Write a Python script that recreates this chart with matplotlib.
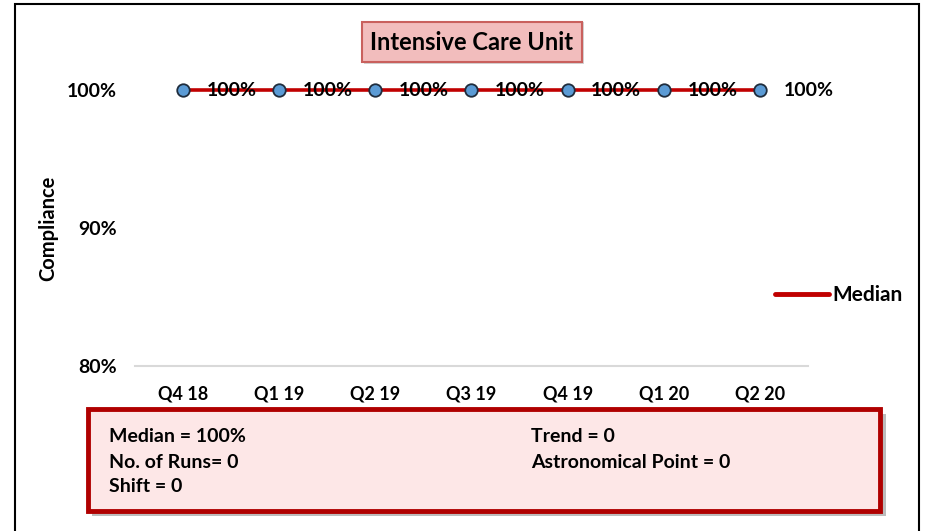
import numpy as np
import matplotlib.pyplot as plt
from matplotlib.patches import Rectangle
from matplotlib.lines import Line2D

# chart data
quarters = ["Q4 18", "Q1 19", "Q2 19", "Q3 19", "Q4 19", "Q1 20", "Q2 20"]
compliance = [100, 100, 100, 100, 100, 100, 100]
median = [100, 100, 100, 100, 100, 100, 100]
yticks = [80, 90, 100]

stats_left = ["Median = 100%", "No. of Runs= 0", "Shift = 0"]
stats_right = ["Trend = 0", "Astronomical Point = 0"]

plt.rcParams['font.family'] = ['Lato', 'DejaVu Sans']
plt.rcParams['font.weight'] = 'bold'

W, H = 928, 531
fig = plt.figure(figsize=(W / 100, H / 100), dpi=100)


def fx(px):
    return px / W


def fy(py):
    return 1 - py / H


ax = fig.add_axes([fx(135), fy(366), fx(808) - fx(135), fy(90) - fy(366)])
x = np.arange(len(quarters))

ax.plot(x, median, color="#C00000", lw=2.6, label="Median", zorder=2,
        solid_capstyle="butt", clip_on=False)
ax.plot(x, compliance, ls="none", marker="o", ms=9, mfc="#5B9BD5",
        mec="#1F2D3D", mew=1.3, zorder=3, clip_on=False)
for xi, v in zip(x, compliance):
    ax.annotate(f"{v:.0f}%", (xi, v), xytext=(17, 0), textcoords="offset points",
                ha="left", va="center", fontsize=14, fontweight="bold",
                color="black", zorder=4, annotation_clip=False)

ax.set_xlim(-0.5, len(quarters) - 0.5)
ax.set_ylim(80, 100)
ax.set_yticks(yticks)
ax.set_yticklabels([f"{t}%" for t in yticks])
ax.set_xticks(x)
ax.set_xticklabels(quarters)
ax.tick_params(axis="y", length=0, pad=13, labelsize=14)
ax.tick_params(axis="x", length=0, pad=14, labelsize=13)
for side in ["top", "right", "left"]:
    ax.spines[side].set_visible(False)
ax.spines["bottom"].set_color("#D9D9D9")
ax.spines["bottom"].set_linewidth(1.5)
ax.set_ylabel("Compliance", fontsize=14.5, fontweight="bold", labelpad=6)

fig.legend(handles=[Line2D([], [], color="#C00000", lw=3.5, solid_capstyle="round")],
           labels=["Median"], loc="center left",
           bbox_to_anchor=(fx(756), fy(295)), frameon=False,
           handlelength=2.6, handletextpad=0.15, fontsize=15)

# outer frame
fig.add_artist(Rectangle((fx(15), fy(540)), fx(919) - fx(15), fy(4) - fy(540),
                         transform=fig.transFigure, fill=False,
                         edgecolor="black", lw=1.5))

# title box
fig.add_artist(Rectangle((fx(364), fy(64)), fx(584) - fx(364), fy(22) - fy(64),
                         transform=fig.transFigure, facecolor="#B8B8B8",
                         edgecolor="none", alpha=0.6))
fig.add_artist(Rectangle((fx(362), fy(62)), fx(582) - fx(362), fy(22) - fy(62),
                         transform=fig.transFigure, facecolor="#F2BDBD",
                         edgecolor="#C9605D", lw=1.5))
fig.text(fx(472), fy(42), "Intensive Care Unit", ha="center", va="center",
         fontsize=17, fontweight="bold")

# stats box with shadow
fig.add_artist(Rectangle((fx(92), fy(516)), fx(886) - fx(92), fy(414) - fy(516),
                         transform=fig.transFigure, facecolor="#7A7A7A",
                         edgecolor="none", alpha=0.5))
fig.add_artist(Rectangle((fx(88), fy(511)), fx(880) - fx(88), fy(409) - fy(511),
                         transform=fig.transFigure, facecolor="#FDE7E7",
                         edgecolor="#B00000", lw=3.5))
for i, s in enumerate(stats_left):
    fig.text(fx(109), fy(437 + 25 * i), s, ha="left", va="center",
             fontsize=14, fontweight="bold")
for i, s in enumerate(stats_right):
    fig.text(fx(531), fy(437 + 25 * i), s, ha="left", va="center",
             fontsize=14, fontweight="bold")

fig.savefig("out.png", dpi=100)
